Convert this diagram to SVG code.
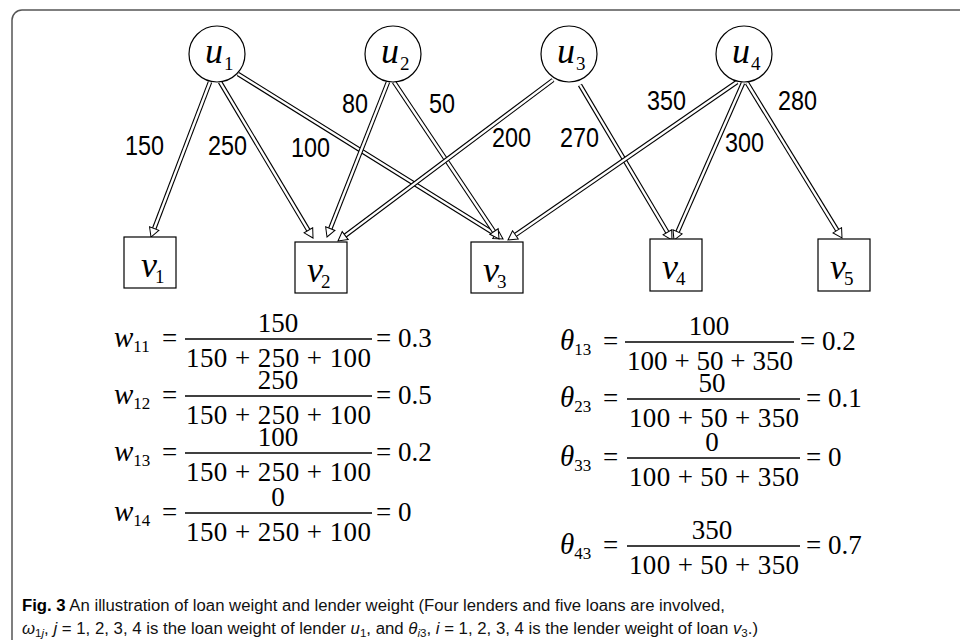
<svg xmlns="http://www.w3.org/2000/svg" width="960" height="640" viewBox="0 0 960 640">
<style>
.frame{fill:none;stroke:#555;stroke-width:1.5}
.node{fill:#fff;stroke:#000;stroke-width:1.2}
.nl{font-family:"Liberation Serif",serif;font-style:italic;font-size:36px;fill:#000}
.ns{font-style:normal;font-size:19px}
.out{fill:none;stroke:#000;stroke-width:4.6}
.inn{fill:none;stroke:#fff;stroke-width:2.4;marker-end:url(#head)}
.el{font-family:"Liberation Sans",sans-serif;font-size:28px;fill:#000}
.m{font-family:"Liberation Serif",serif;font-size:27px;fill:#000}
.mi{font-style:italic;font-size:29px}
.ms{font-size:17px}
.bar{stroke:#000;stroke-width:1.3}
.cap{font-family:"Liberation Sans",sans-serif;font-size:16px;fill:#111}
</style>
<defs>
<marker id="head" markerUnits="userSpaceOnUse" viewBox="0 0 12 12" refX="1" refY="6" markerWidth="12" markerHeight="12" orient="auto">
<path d="M1,1 L10,6 L1,11 Z" fill="#fff" stroke="#000" stroke-width="1"/>
</marker>
</defs>
<rect class="frame" x="12" y="10" width="1000" height="700" rx="10"/>
<g id="connectors">
<path class="out" d="M210,82 L154.2,228.6"/><path class="inn" d="M210,82 L154.2,228.6"/>
<path class="out" d="M220,82 L308.4,230.3"/><path class="inn" d="M220,82 L308.4,230.3"/>
<path class="out" d="M238,74 L495.4,234.2"/><path class="inn" d="M238,74 L495.4,234.2"/>
<path class="out" d="M388,82 L330.3,228.6"/><path class="inn" d="M388,82 L330.3,228.6"/>
<path class="out" d="M394,82 L494,231.5"/><path class="inn" d="M394,82 L494,231.5"/>
<path class="out" d="M553,80 L345.2,235.6"/><path class="inn" d="M553,80 L345.2,235.6"/>
<path class="out" d="M580,85 L667.4,232.3"/><path class="inn" d="M580,85 L667.4,232.3"/>
<path class="out" d="M737,82 L515.4,234.9"/><path class="inn" d="M737,82 L515.4,234.9"/>
<path class="out" d="M743,83 L677.6,231.8"/><path class="inn" d="M743,83 L677.6,231.8"/>
<path class="out" d="M747,83 L837.3,230.3"/><path class="inn" d="M747,83 L837.3,230.3"/>
<text class="el" x="125" y="155" textLength="39" lengthAdjust="spacingAndGlyphs">150</text>
<text class="el" x="208" y="155" textLength="39" lengthAdjust="spacingAndGlyphs">250</text>
<text class="el" x="291" y="157" textLength="39" lengthAdjust="spacingAndGlyphs">100</text>
<text class="el" x="342" y="113" textLength="26" lengthAdjust="spacingAndGlyphs">80</text>
<text class="el" x="429" y="113" textLength="26" lengthAdjust="spacingAndGlyphs">50</text>
<text class="el" x="492" y="147" textLength="39" lengthAdjust="spacingAndGlyphs">200</text>
<text class="el" x="560" y="147" textLength="39" lengthAdjust="spacingAndGlyphs">270</text>
<text class="el" x="647" y="110" textLength="39" lengthAdjust="spacingAndGlyphs">350</text>
<text class="el" x="778" y="110" textLength="39" lengthAdjust="spacingAndGlyphs">280</text>
<text class="el" x="725" y="152" textLength="39" lengthAdjust="spacingAndGlyphs">300</text>
</g>
<g id="u1"><circle class="node" cx="217" cy="54" r="28"/><text class="nl" x="205" y="63">u<tspan class="ns" dx="1" dy="7">1</tspan></text></g>
<g id="u2"><circle class="node" cx="393" cy="54" r="28"/><text class="nl" x="381" y="63">u<tspan class="ns" dx="1" dy="7">2</tspan></text></g>
<g id="u3"><circle class="node" cx="569" cy="54" r="28"/><text class="nl" x="557" y="63">u<tspan class="ns" dx="1" dy="7">3</tspan></text></g>
<g id="u4"><circle class="node" cx="744" cy="54" r="28"/><text class="nl" x="732" y="63">u<tspan class="ns" dx="1" dy="7">4</tspan></text></g>
<g id="v1"><rect class="node" x="124" y="237" width="52" height="51"/><text class="nl" x="141" y="277">v<tspan class="ns" dx="-2" dy="6">1</tspan></text></g>
<g id="v2"><rect class="node" x="295" y="242" width="52" height="51"/><text class="nl" x="307" y="282">v<tspan class="ns" dx="-2" dy="6">2</tspan></text></g>
<g id="v3"><rect class="node" x="471" y="242" width="52" height="51"/><text class="nl" x="483" y="282">v<tspan class="ns" dx="-2" dy="6">3</tspan></text></g>
<g id="v4"><rect class="node" x="650" y="239" width="52" height="52"/><text class="nl" x="662" y="279">v<tspan class="ns" dx="-2" dy="6">4</tspan></text></g>
<g id="v5"><rect class="node" x="818" y="239" width="52" height="52"/><text class="nl" x="830" y="279">v<tspan class="ns" dx="-2" dy="6">5</tspan></text></g>
<g id="formulas-w">
<text class="m" x="114" y="347"><tspan class="mi">w</tspan><tspan class="ms" dy="5">11</tspan></text>
<text class="m" x="162" y="347">=</text>
<text class="m" x="278" y="332" text-anchor="middle">150</text>
<line class="bar" x1="185" y1="339" x2="372" y2="339"/>
<text class="m" x="186" y="367" textLength="185" lengthAdjust="spacing">150 + 250 + 100</text>
<text class="m" x="376" y="347">= 0.3</text>

<text class="m" x="114" y="404"><tspan class="mi">w</tspan><tspan class="ms" dy="5">12</tspan></text>
<text class="m" x="162" y="404">=</text>
<text class="m" x="278" y="389" text-anchor="middle">250</text>
<line class="bar" x1="185" y1="396" x2="372" y2="396"/>
<text class="m" x="186" y="424" textLength="185" lengthAdjust="spacing">150 + 250 + 100</text>
<text class="m" x="376" y="404">= 0.5</text>

<text class="m" x="114" y="461"><tspan class="mi">w</tspan><tspan class="ms" dy="5">13</tspan></text>
<text class="m" x="162" y="461">=</text>
<text class="m" x="278" y="446" text-anchor="middle">100</text>
<line class="bar" x1="185" y1="453" x2="372" y2="453"/>
<text class="m" x="186" y="481" textLength="185" lengthAdjust="spacing">150 + 250 + 100</text>
<text class="m" x="376" y="461">= 0.2</text>

<text class="m" x="114" y="521"><tspan class="mi">w</tspan><tspan class="ms" dy="5">14</tspan></text>
<text class="m" x="162" y="521">=</text>
<text class="m" x="278" y="506" text-anchor="middle">0</text>
<line class="bar" x1="185" y1="513" x2="372" y2="513"/>
<text class="m" x="186" y="541" textLength="185" lengthAdjust="spacing">150 + 250 + 100</text>
<text class="m" x="376" y="521">= 0</text>
</g>
<g id="formulas-theta">
<text class="m" x="560" y="350"><tspan class="mi">θ</tspan><tspan class="ms" dy="5">13</tspan></text>
<text class="m" x="603" y="350">=</text>
<text class="m" x="709" y="335" text-anchor="middle">100</text>
<line class="bar" x1="625" y1="342" x2="794" y2="342"/>
<text class="m" x="627" y="370" textLength="166" lengthAdjust="spacing">100 + 50 + 350</text>
<text class="m" x="800" y="350">= 0.2</text>

<text class="m" x="560" y="407"><tspan class="mi">θ</tspan><tspan class="ms" dy="5">23</tspan></text>
<text class="m" x="603" y="407">=</text>
<text class="m" x="712" y="392" text-anchor="middle">50</text>
<line class="bar" x1="627" y1="399" x2="800" y2="399"/>
<text class="m" x="629" y="427" textLength="170" lengthAdjust="spacing">100 + 50 + 350</text>
<text class="m" x="806" y="407">= 0.1</text>

<text class="m" x="560" y="466"><tspan class="mi">θ</tspan><tspan class="ms" dy="5">33</tspan></text>
<text class="m" x="603" y="466">=</text>
<text class="m" x="712" y="451" text-anchor="middle">0</text>
<line class="bar" x1="627" y1="458" x2="800" y2="458"/>
<text class="m" x="629" y="486" textLength="170" lengthAdjust="spacing">100 + 50 + 350</text>
<text class="m" x="806" y="466">= 0</text>

<text class="m" x="560" y="554"><tspan class="mi">θ</tspan><tspan class="ms" dy="5">43</tspan></text>
<text class="m" x="603" y="554">=</text>
<text class="m" x="712" y="539" text-anchor="middle">350</text>
<line class="bar" x1="627" y1="546" x2="800" y2="546"/>
<text class="m" x="629" y="574" textLength="170" lengthAdjust="spacing">100 + 50 + 350</text>
<text class="m" x="806" y="554">= 0.7</text>
</g>
<g id="caption">
<text class="cap" x="22" y="611" textLength="703" lengthAdjust="spacingAndGlyphs"><tspan font-weight="bold" fill="#000">Fig. 3</tspan>  An illustration of loan weight and lender weight (Four lenders and five loans are involved,</text>
<text class="cap" x="22" y="634" textLength="736" lengthAdjust="spacingAndGlyphs"><tspan font-style="italic">ω</tspan><tspan font-size="11" dy="3">1<tspan font-style="italic">j</tspan></tspan><tspan dy="-3">, </tspan><tspan font-style="italic">j</tspan> = 1, 2, 3, 4 is the loan weight of lender <tspan font-style="italic">u</tspan><tspan font-size="11" dy="3">1</tspan><tspan dy="-3">, and </tspan><tspan font-style="italic">θ</tspan><tspan font-size="11" dy="3" font-style="italic">i</tspan><tspan font-size="11">3</tspan><tspan dy="-3">, </tspan><tspan font-style="italic">i</tspan> = 1, 2, 3, 4 is the lender weight of loan <tspan font-style="italic">v</tspan><tspan font-size="11" dy="3">3</tspan><tspan dy="-3">.)</tspan></text>
</g>
</svg>
